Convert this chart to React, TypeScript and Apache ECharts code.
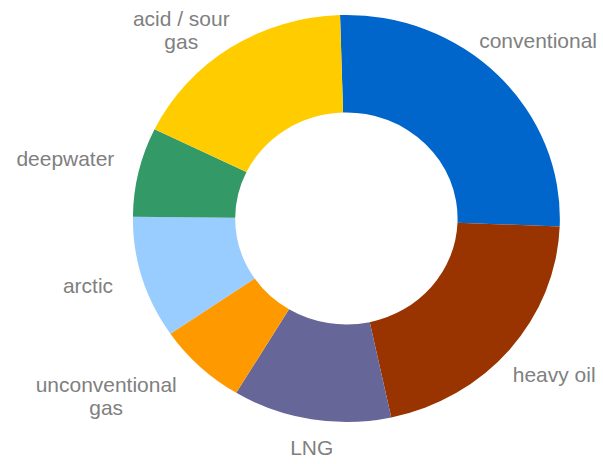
import React, { useEffect, useRef } from "react";
import * as echarts from "echarts";

// ---- data ----
const categories = [
  "conventional",
  "heavy oil",
  "LNG",
  "unconventional gas",
  "arctic",
  "deepwater",
  "acid / sour gas",
];
const values = [26.1, 21.0, 12.0, 6.8, 9.7, 7.1, 17.3];
const colors = ["#0066CC", "#993300", "#666699", "#FF9900", "#99CCFF", "#339966", "#FFCC00"];

// ---- layout / style ----
const STRETCH = 1.049; // reference is slightly wider than tall
const W = 575;
const H = 464;
const CX = 330.2;
const CY = 218.5;
const R_OUT = 203.5;
const R_IN = 106;
const START = 91.7;
const LABEL_CX = CX - 10;
const LABEL_R = 219;
// small label nudges (px) after the outside-placement rule
const labelNudge: [number, number][] = [
  [-19, -12],
  [1, 4],
  [13, 2],
  [-1.5, -5],
  [-3, 3.5],
  [2, -10],
  [17.5, 19],
];

export default function App() {
  const ref = useRef<HTMLDivElement>(null);

  useEffect(() => {
    if (!ref.current) return;
    const chart = echarts.init(ref.current, undefined, { renderer: "svg" });
    const total = values.reduce((a, b) => a + b, 0);

    chart.setOption({
      animation: false,
      backgroundColor: "#ffffff",
      series: [
        {
          type: "pie",
          center: [CX, CY],
          radius: [R_IN, R_OUT],
          startAngle: START,
          clockwise: true,
          avoidLabelOverlap: false,
          data: categories.map((name, i) => ({
            name,
            value: values[i],
            itemStyle: { color: colors[i] },
          })),
          label: {
            show: true,
            position: "outside",
            color: "#808080",
            fontFamily: "Liberation Sans",
            fontSize: 20,
            lineHeight: 23,
            formatter: (p: any) => String(p.name).replace(/ gas$/, "\ngas"),
          },
          labelLine: { show: false },
          emphasis: { disabled: true },
          labelLayout: (p: any) => {
            const i = p.dataIndex;
            let before = 0;
            for (let j = 0; j < i; j++) before += values[j];
            const mid = START - ((before + values[i] / 2) / total) * 360;
            const rad = (mid * Math.PI) / 180;
            const c = Math.cos(rad);
            const s = Math.sin(rad);
            const ax = LABEL_CX + LABEL_R * c;
            const ay = CY - LABEL_R * s;
            const w = p.labelRect.width;
            const h = p.labelRect.height;
            const t = Math.cos((67.5 * Math.PI) / 180);
            const ox = c > t ? w / 2 : c < -t ? -w / 2 : 0;
            const oy = s > t ? -h / 2 : s < -t ? h / 2 : 0;
            const n = labelNudge[i] || [0, 0];
            return {
              x: ax + ox + n[0],
              y: ay + oy + n[1],
              align: "center",
              verticalAlign: "middle",
            };
          },
        },
      ],
    });
    return () => chart.dispose();
  }, []);

  return (
    <div
      style={{
        position: "fixed",
        left: 0,
        top: 0,
        width: 603,
        height: H,
        overflow: "hidden",
        background: "#fff",
      }}
    >
      <div
        ref={ref}
        style={{
          width: W,
          height: H,
          transform: `scaleX(${STRETCH})`,
          transformOrigin: "0 0",
        }}
      />
    </div>
  );
}
